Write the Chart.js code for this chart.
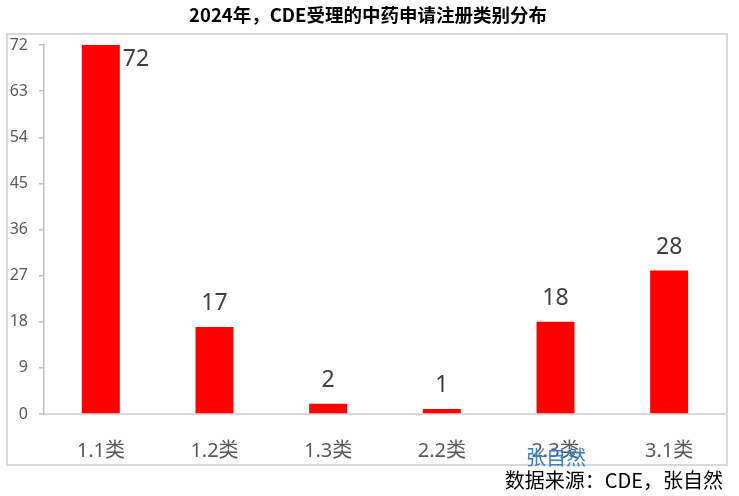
<!DOCTYPE html>
<html>
<head>
<meta charset="utf-8">
<script src="https://cdn.jsdelivr.net/npm/chart.js@4.4.1/dist/chart.umd.min.js"></script>
<style>
  html, body { margin: 0; padding: 0; background: #fff; }
  #wrap { width: 739px; height: 496px; position: relative; }
</style>
</head>
<body>
<div id="wrap"><canvas id="c"></canvas></div>
<script>
// data
const categories = ['1.1类', '1.2类', '1.3类', '2.2类', '2.3类', '3.1类'];
const counts = [72, 17, 2, 1, 18, 28];
const yTicks = [0, 9, 18, 27, 36, 45, 54, 63, 72];

const titleText = '2024年，CDE受理的中药申请注册类别分布';
const sourceText = '数据来源：CDE，张自然';
const markText = '张自然';

const FONT = '"Noto Sans", "Noto Sans CJK SC", sans-serif';
const CJK = '"Noto Sans CJK SC", "Noto Sans", sans-serif';

// frame, title, watermark and source note
const decorations = {
  id: 'decorations',
  beforeDraw(chart) {
    const ctx = chart.ctx;
    ctx.save();
    ctx.fillStyle = '#fff';
    ctx.fillRect(0, 0, chart.width, chart.height);
    ctx.strokeStyle = '#d9d9d9';
    ctx.lineWidth = 2;
    ctx.strokeRect(7, 34, 720, 431);
    ctx.restore();
  },
  afterDraw(chart) {
    const ctx = chart.ctx;
    ctx.save();
    ctx.textBaseline = 'alphabetic';
    ctx.fillStyle = '#000';
    ctx.font = 'bold 18.5px ' + CJK;
    ctx.textAlign = 'center';
    ctx.fillText(titleText, 368, 22);

    ctx.fillStyle = '#3a7fc6';
    ctx.font = '20px ' + CJK;
    ctx.textAlign = 'left';
    ctx.fillText(markText, 526, 465);

    ctx.fillStyle = '#000';
    ctx.font = '20px ' + CJK;
    ctx.textAlign = 'right';
    ctx.fillText(sourceText, 723, 488);
    ctx.restore();
  }
};

// value labels above bars (or beside the bar when it reaches the top)
const valueLabels = {
  id: 'valueLabels',
  afterDatasetsDraw(chart) {
    const ctx = chart.ctx;
    const meta = chart.getDatasetMeta(0);
    const area = chart.chartArea;
    ctx.save();
    ctx.fillStyle = '#404040';
    ctx.font = '23px ' + FONT;
    ctx.textBaseline = 'alphabetic';
    meta.data.forEach((bar, i) => {
      const txt = String(counts[i]);
      const half = bar.width / 2;
      if (bar.y - 17 - 16 < area.top) {
        ctx.textAlign = 'left';
        ctx.fillText(txt, bar.x + half + 3, bar.y + 21);
      } else {
        ctx.textAlign = 'center';
        ctx.fillText(txt, bar.x, bar.y - 17);
      }
    });
    ctx.restore();
  }
};

new Chart(document.getElementById('c'), {
  type: 'bar',
  data: {
    labels: categories,
    datasets: [{
      data: counts,
      backgroundColor: '#ff0000',
      borderWidth: 0,
      barPercentage: 0.334,
      categoryPercentage: 1.0
    }]
  },
  options: {
    responsive: true,
    maintainAspectRatio: false,
    animation: false,
    layout: { padding: { left: 0, top: 45, right: 13, bottom: 0 } },
    plugins: {
      legend: { display: false },
      tooltip: { enabled: false }
    },
    scales: {
      x: {
        grid: { display: false },
        border: { color: '#d9d9d9', width: 2 },
        ticks: {
          color: '#595959',
          font: { family: FONT, size: 20 },
          padding: 17,
          maxRotation: 0
        },
        afterFit(s) { s.height = 82; }
      },
      y: {
        min: 0,
        max: 72,
        afterBuildTicks(s) { s.ticks = yTicks.map(v => ({ value: v })); },
        grid: {
          drawOnChartArea: false,
          drawTicks: true,
          tickLength: 5,
          color: '#bfbfbf',
          lineWidth: 1.5
        },
        border: { color: '#bfbfbf', width: 1.5 },
        ticks: {
          color: '#595959',
          font: { family: FONT, size: 16 },
          padding: 11
        },
        afterFit(s) { s.width = 44; }
      }
    }
  },
  plugins: [decorations, valueLabels]
});
</script>
</body>
</html>
